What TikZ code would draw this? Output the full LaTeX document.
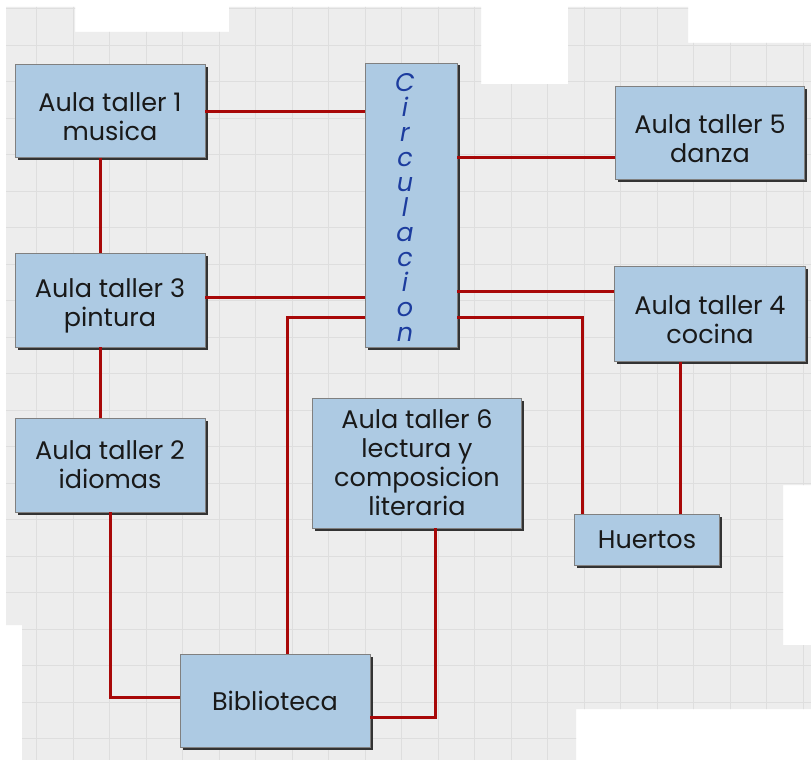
\documentclass[tikz,border=0pt]{standalone}
\usepackage{fontspec}
\setmainfont{Poppins}
\usetikzlibrary{positioning,shadows,calc}
\definecolor{roomblue}{HTML}{ADCAE3}
\definecolor{linkred}{HTML}{A80808}
\definecolor{circblue}{HTML}{1C3C9E}
\definecolor{paper}{HTML}{EDEDED}
\definecolor{paperline}{HTML}{DEDEDE}
\newcommand{\toppad}{\rule{0pt}{31pt}}

\begin{document}
\begin{tikzpicture}[x=1pt, y=-1pt,
  room/.style={draw=black!50, line width=0.6pt, fill=roomblue, align=center,
    text=black!90, font=\fontsize{25.5}{29}\selectfont, inner sep=0pt,
    minimum width=190pt, minimum height=93pt,
    drop shadow={shadow xshift=2.5pt, shadow yshift=-2.5pt, fill=black!80, opacity=1}},
  circtext/.style={align=center, text=circblue, inner sep=0pt,
    font=\fontsize{25.5}{25}\selectfont\itshape},
  link/.style={linkred, line width=3pt},
]
\fill[white] (0,0) rectangle (811,760);
\useasboundingbox (0,0) rectangle (811,760);

% grid paper
\begin{scope}
  \clip (6,7) -- (75,7) -- (75,32) -- (229,32) -- (229,7) -- (481,7) -- (481,84)
    -- (568,84) -- (568,7) -- (688,7) -- (688,43) -- (811,43) -- (811,485)
    -- (783,485) -- (783,645) -- (811,645) -- (811,709) -- (576,709) -- (576,760)
    -- (22,760) -- (22,625) -- (6,625) -- cycle;
  \fill[paper] (0,0) rectangle (811,760);
  \foreach \k in {0,...,22}
    \draw[paperline, line width=0.8pt] (36.5*\k,0) -- (36.5*\k,760);
  \foreach \k in {0,...,21}
    \draw[paperline, line width=0.8pt] (0,8.5+36.5*\k) -- (811,8.5+36.5*\k);
\end{scope}

% rooms
\node[room] (musica) at (110,111) {\toppad Aula taller 1\\musica};
\node[room, minimum height=94pt] (pintura) at (110,300) {\toppad Aula taller 3\\pintura};
\node[room, minimum height=94pt] (idiomas) at (110,465) {Aula taller 2\\idiomas};
\node[room, minimum width=92pt, minimum height=284pt] (circ) at (411,205) {};
\node[circtext] (circlbl) at ([xshift=-6pt, yshift=-2pt]circ.center)
  {C\\i\\r\\c\\u\\l\\a\\c\\i\\o\\n};
\node[room, minimum width=189pt] (danza) at (710,133) {\toppad Aula taller 5\\danza};
\node[room, minimum width=191pt, minimum height=95pt] (cocina) at (710,314) {\toppad Aula taller 4\\cocina};
\node[room, minimum width=209pt, minimum height=130pt] (lectura) at (417,463)
  {Aula taller 6\\lectura y\\composicion\\literaria};
\node[room, minimum width=145pt, minimum height=51pt] (huertos) at (647,540) {Huertos};
\node[room] (biblio) at (275,701) {Biblioteca};

% links
\draw[link] (musica.east) -- (musica.east -| circ.west);
\draw[link] ([xshift=-10pt]musica.south) -- ([xshift=-10pt]pintura.north);
\draw[link] ([yshift=3pt]pintura.east) -- ([yshift=3pt]pintura.east -| circ.west);
\draw[link] ([xshift=-10pt]pintura.south) -- ([xshift=-10pt]idiomas.north);
\draw[link] (idiomas.south) |- ([yshift=4pt]biblio.west);
\draw[link] ([yshift=-112pt]circ.west) -| ([xshift=12pt]biblio.north);
\draw[link] ([xshift=18pt]lectura.south) |- ([yshift=-16pt]biblio.east);
\draw[link] ([yshift=-24pt]danza.west) -- ([yshift=-24pt]danza.west -| circ.east);
\draw[link] ([yshift=23pt]cocina.west) -- ([yshift=23pt]cocina.west -| circ.east);
\draw[link] ([yshift=-112pt]circ.east) -| ([xshift=8pt]huertos.north west);
\draw[link] ([xshift=-30pt]cocina.south) -- ([xshift=-30pt]cocina.south |- huertos.north);
\end{tikzpicture}
\end{document}
